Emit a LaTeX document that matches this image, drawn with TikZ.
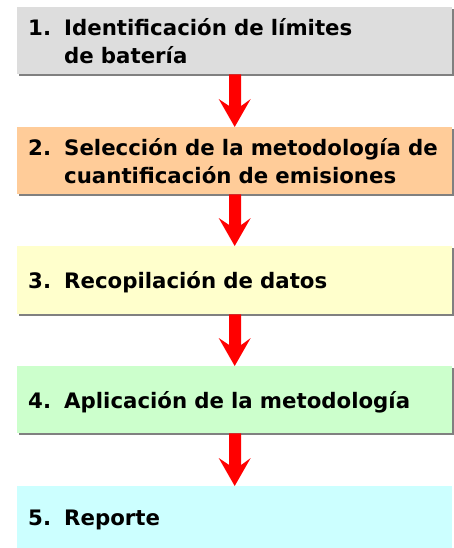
\documentclass[tikz,border=0pt]{standalone}
\usepackage{fontspec}
\setmainfont{DejaVu Sans}
\usetikzlibrary{calc}
\definecolor{c1}{HTML}{DDDDDD}
\definecolor{c2}{HTML}{FFCC99}
\definecolor{c3}{HTML}{FFFFCC}
\definecolor{c4}{HTML}{CCFFCC}
\definecolor{c5}{HTML}{CCFFFF}
\definecolor{shad}{HTML}{808080}
\definecolor{arr}{HTML}{FF0000}
\newcommand{\numb}[1]{\makebox[36pt][l]{#1}}
\begin{document}
\begin{tikzpicture}[x=1pt,y=-1pt,
  stepbox/.style={rectangle, anchor=north west, minimum width=435pt,
    text width=413pt, inner xsep=11pt, inner ysep=0pt, align=left,
    text height=20pt, text depth=3pt,
    font=\fontsize{21.3}{28}\selectfont\bfseries, text=black},
  twoline/.style={text height=20pt, text depth=31pt},
  shadowbox/.style={fill=shad},
  redarrow/.style={fill=arr}]
\useasboundingbox (0,0) rectangle (453,548);
% shadows
\fill[shadowbox] (19,9) rectangle (456,76);
\fill[shadowbox] (19,129) rectangle (456,196);
\fill[shadowbox] (19,248) rectangle (456,316);
\fill[shadowbox] (19,368) rectangle (456,435);
% boxes
\node[stepbox, twoline, fill=c1, minimum height=67pt] (b1) at (17,7) {\mbox{\numb{1.}Identificación de límites}\\\mbox{\numb{}de batería}};
\node[stepbox, twoline, fill=c2, minimum height=67pt] (b2) at (17,127) {\mbox{\numb{2.}Selección de la metodología de}\\\mbox{\numb{}cuantificación de emisiones}};
\node[stepbox, fill=c3, minimum height=68pt] (b3) at (17,246) {\mbox{\numb{3.}Recopilación de datos}};
\node[stepbox, fill=c4, minimum height=67pt] (b4) at (17,366) {\mbox{\numb{4.}Aplicación de la metodología}};
\node[stepbox, fill=c5, minimum height=62pt] (b5) at (17,486) {\mbox{\numb{5.}Reporte}};
% arrows
\foreach \a/\b in {b1/b2, b2/b3, b3/b4, b4/b5}{
  \fill[redarrow] ($(\a.south)+(-5.5,0)$) -- ($(\b.north)+(-5.5,-21)$) -- ($(\b.north)+(-16,-28)$)
    -- (\b.north) -- ($(\b.north)+(16,-28)$) -- ($(\b.north)+(6.5,-21)$) -- ($(\a.south)+(6.5,0)$) -- cycle;
}
\end{tikzpicture}
\end{document}
